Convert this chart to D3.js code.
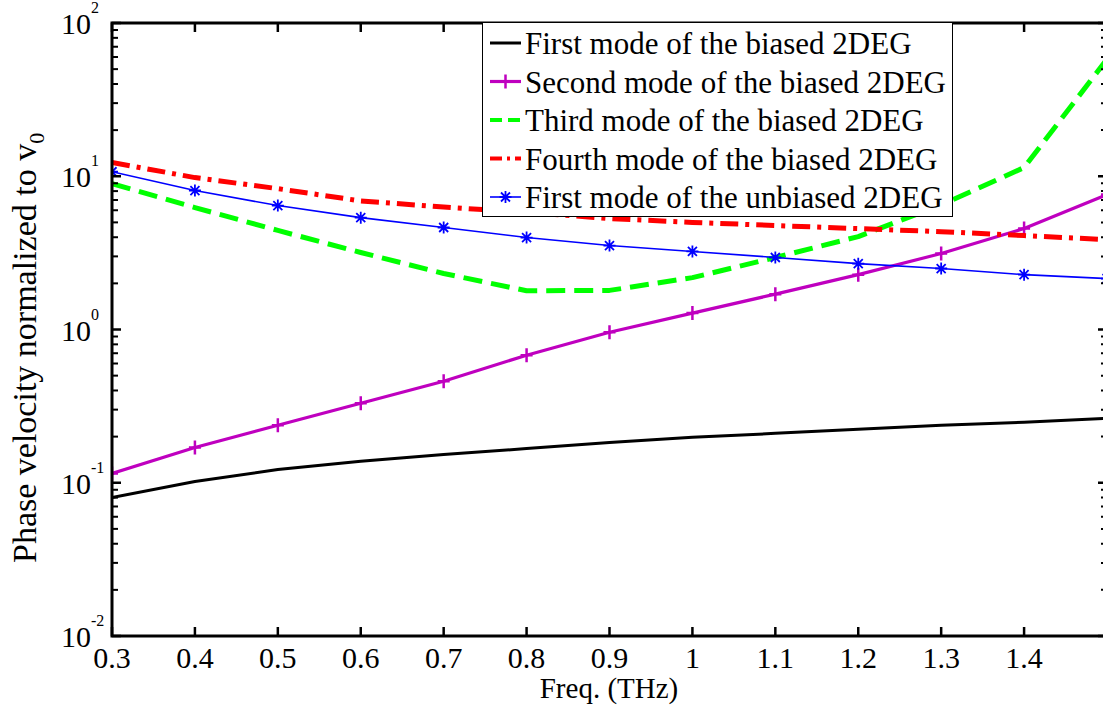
<!DOCTYPE html>
<html><head><meta charset="utf-8">
<script src="https://cdn.jsdelivr.net/npm/d3@7"></script>
<style>body{margin:0;background:#fff}svg{display:block}text{font-family:"Liberation Serif","Times New Roman",serif;fill:#000}</style>
</head><body><svg id="c" width="1103" height="710"></svg>
<script>
const freq = [0.3,0.4,0.5,0.6,0.7,0.8,0.9,1.0,1.1,1.2,1.3,1.4,1.5];
const firstBiased = [0.080,0.102,0.122,0.138,0.153,0.167,0.183,0.198,0.210,0.223,0.237,0.248,0.263];
const secondBiased = [0.115,0.170,0.237,0.330,0.460,0.680,0.960,1.28,1.70,2.28,3.13,4.56,7.6];
const thirdBiased = [8.96,6.25,4.43,3.18,2.32,1.79,1.80,2.18,2.95,4.04,6.5,11.4,58];
const fourthBiased = [12.3,9.8,8.3,6.9,6.3,5.8,5.3,5.0,4.77,4.55,4.35,4.1,3.86];
const firstUnbiased = [10.7,8.07,6.44,5.37,4.63,3.98,3.53,3.23,2.95,2.69,2.5,2.28,2.15];
const xTickValues = [0.3,0.4,0.5,0.6,0.7,0.8,0.9,1.0,1.1,1.2,1.3,1.4,1.5];
const xTickLabels = ["0.3","0.4","0.5","0.6","0.7","0.8","0.9","1","1.1","1.2","1.3","1.4",""];
const yExponents = [-2,-1,0,1,2];
const legendLabels = ["First mode of the biased 2DEG","Second mode of the biased 2DEG","Third mode of the biased 2DEG","Fourth mode of the biased 2DEG","First mode of the unbiased 2DEG"];
const xLabel = "Freq. (THz)";
const yLabel = "Phase velocity normalized to v";

const svg = d3.select("#c");
const L=112, R=1107, T=23, B=636;
const x = d3.scaleLinear().domain([0.3,1.5]).range([L,R]);
const y = d3.scaleLog().domain([0.01,100]).range([B,T]);

const series = [
  {v:firstBiased, color:"#000000", w:3, dash:null, marker:null},
  {v:secondBiased, color:"#bf00bf", w:3.2, dash:null, marker:"plus"},
  {v:thirdBiased, color:"#00ff00", w:5, dash:"19,9", marker:null},
  {v:fourthBiased, color:"#ff0000", w:5, dash:"18,7,4,7", marker:null},
  {v:firstUnbiased, color:"#0000ff", w:1.6, dash:null, marker:"star"}
];

svg.append("defs").append("clipPath").attr("id","clip").append("rect")
  .attr("x",L).attr("y",T).attr("width",R-L).attr("height",B-T);

const g = svg.append("g").attr("clip-path","url(#clip)");
const line = d3.line().x((d,i)=>x(freq[i])).y(d=>y(d));

function drawMarker(sel, type, color){
  if(type==="plus"){
    sel.append("path").attr("d","M-6,0H6M0,-7V7").attr("stroke",color).attr("stroke-width",2.5).attr("fill","none");
  } else if(type==="star"){
    sel.append("path").attr("d","M-6,0H6M0,-6V6M-4.5,-4.5L4.5,4.5M-4.5,4.5L4.5,-4.5").attr("stroke",color).attr("stroke-width",1.8).attr("fill","none");
  }
}

series.forEach(s=>{
  g.append("path").datum(s.v).attr("d",line).attr("fill","none")
    .attr("stroke",s.color).attr("stroke-width",s.w)
    .attr("stroke-dasharray",s.dash).attr("stroke-linejoin","round");
  if(s.marker){
    s.v.forEach((d,i)=>{
      const m = g.append("g").attr("transform",`translate(${x(freq[i])},${y(d)})`);
      drawMarker(m, s.marker, s.color);
    });
  }
});

// axes box
const ax = svg.append("g");
ax.append("rect").attr("x",L).attr("y",T).attr("width",R-L).attr("height",B-T)
  .attr("fill","none").attr("stroke","#000").attr("stroke-width",3);
xTickValues.forEach((t,i)=>{
  ax.append("line").attr("x1",x(t)).attr("x2",x(t)).attr("y1",B).attr("y2",B-9).attr("stroke","#000").attr("stroke-width",2.5);
  ax.append("line").attr("x1",x(t)).attr("x2",x(t)).attr("y1",T).attr("y2",T+9).attr("stroke","#000").attr("stroke-width",2.5);
  ax.append("text").attr("x",x(t)).attr("y",668).attr("text-anchor","middle").attr("font-size",30).text(xTickLabels[i]);
});
yExponents.forEach(e=>{
  const v = Math.pow(10,e);
  [L,R].forEach((px,k)=>{
    const dir = k===0?1:-1;
    ax.append("line").attr("x1",px).attr("x2",px+dir*9).attr("y1",y(v)).attr("y2",y(v)).attr("stroke","#000").attr("stroke-width",2.5);
    if(e<2){
      for(let m=2;m<=9;m++){
        ax.append("line").attr("x1",px).attr("x2",px+dir*6).attr("y1",y(v*m)).attr("y2",y(v*m)).attr("stroke","#000").attr("stroke-width",2);
      }
    }
  });
  ax.append("text").attr("x",91).attr("y",y(v)+11).attr("text-anchor","end").attr("font-size",30).text("10");
  ax.append("text").attr("x",91).attr("y",y(v)-10).attr("text-anchor","start").attr("font-size",16).text(String(e));
});

svg.append("text").attr("x",609).attr("y",698).attr("text-anchor","middle").attr("font-size",29).text(xLabel);
const yl = svg.append("text").attr("transform","translate(36,563) rotate(-90)").attr("font-size",34);
yl.append("tspan").text(yLabel);
yl.append("tspan").attr("font-size",22).attr("dy",8).text("0");

const lg = svg.append("g");
lg.append("rect").attr("x",482.5).attr("y",22.5).attr("width",470).attr("height",194)
  .attr("fill","#fff").attr("stroke","#000").attr("stroke-width",1);
legendLabels.forEach((lab,i)=>{
  const cy = 43 + i*38.5;
  const s = series[i];
  lg.append("line").attr("x1",490).attr("x2",521).attr("y1",cy).attr("y2",cy)
    .attr("stroke",s.color).attr("stroke-width",Math.min(s.w,4))
    .attr("stroke-dasharray", s.dash? (i===2?"12,6":"12,5,3,5"):null);
  if(s.marker){
    const m = lg.append("g").attr("transform",`translate(505.5,${cy})`);
    drawMarker(m, s.marker, s.color);
  }
  lg.append("text").attr("x",525).attr("y",cy+11).attr("font-size",31).text(lab);
});
</script></body></html>
